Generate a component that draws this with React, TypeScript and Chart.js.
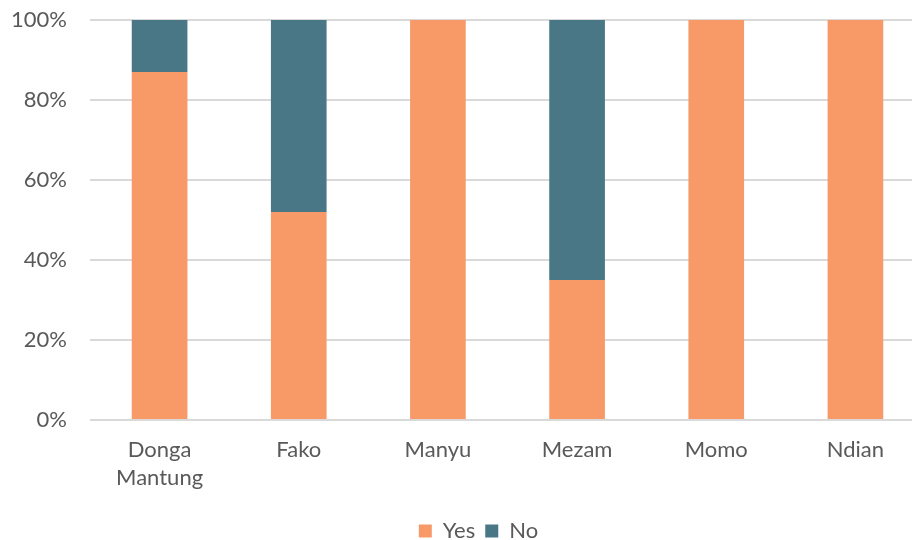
import React, { useEffect, useRef } from "react";
import { Chart, registerables } from "chart.js";

Chart.register(...registerables);

const categories: (string | string[])[] = [["Donga", "Mantung"], "Fako", "Manyu", "Mezam", "Momo", "Ndian"];
const yesValues = [87, 52, 100, 35, 100, 100];
const noValues = [13, 48, 0, 65, 0, 0];
const yTicks = [0, 20, 40, 60, 80, 100];

const legendShift = {
  id: "legendShift",
  afterLayout(chart: any) {
    const lg = chart.legend;
    if (lg) {
      lg.left += 16;
      lg.right += 16;
    }
  },
};

export default function App() {
  const ref = useRef<HTMLCanvasElement>(null);
  useEffect(() => {
    document.body.style.margin = "0";
    const ctx = ref.current!;
    const chart = new Chart(ctx, {
      type: "bar",
      data: {
        labels: categories,
        datasets: [
          { label: "Yes", data: yesValues, backgroundColor: "#F79A68", barPercentage: 0.8, categoryPercentage: 0.5 },
          { label: "No", data: noValues, backgroundColor: "#497786", barPercentage: 0.8, categoryPercentage: 0.5 },
        ],
      },
      plugins: [legendShift],
      options: {
        animation: false,
        responsive: false,
        maintainAspectRatio: false,
        layout: { padding: { left: 0, right: 0, top: 0, bottom: -12 } },
        plugins: {
          legend: {
            position: "bottom",
            labels: {
              boxWidth: 13,
              boxHeight: 13,
              padding: 10,
              color: "#595959",
              font: { family: "Lato", size: 22 },
            },
          },
          tooltip: { enabled: false },
        },
        scales: {
          x: {
            stacked: true,
            grid: { display: false },
            border: { display: false },
            ticks: { color: "#595959", font: { family: "Lato", size: 22, lineHeight: 1.27 }, padding: 8, maxRotation: 0, autoSkip: false },
            afterFit: (s: any) => {
              s.paddingLeft = 0;
              s.paddingRight = 0;
              s.height = 90;
            },
          },
          y: {
            stacked: true,
            min: 0,
            max: 100,
            afterBuildTicks: (axis: any) => {
              axis.ticks = yTicks.map((v) => ({ value: v }));
            },
            grid: { color: "#d9d9d9", lineWidth: 2, drawTicks: false },
            border: { display: false },
            ticks: {
              color: "#595959",
              font: { family: "Lato", size: 22 },
              padding: 23,
              callback: (v: any) => v + "%",
            },
            afterFit: (s: any) => {
              s.width = 90;
              s.paddingTop = 20;
              s.paddingBottom = 0;
            },
          },
        },
      },
    });
    return () => chart.destroy();
  }, []);
  return (
    <div style={{ position: "fixed", left: 0, top: 0, width: 912, height: 540, overflow: "hidden" }}>
      <canvas ref={ref} width={925} height={540} style={{ display: "block" }} />
    </div>
  );
}
